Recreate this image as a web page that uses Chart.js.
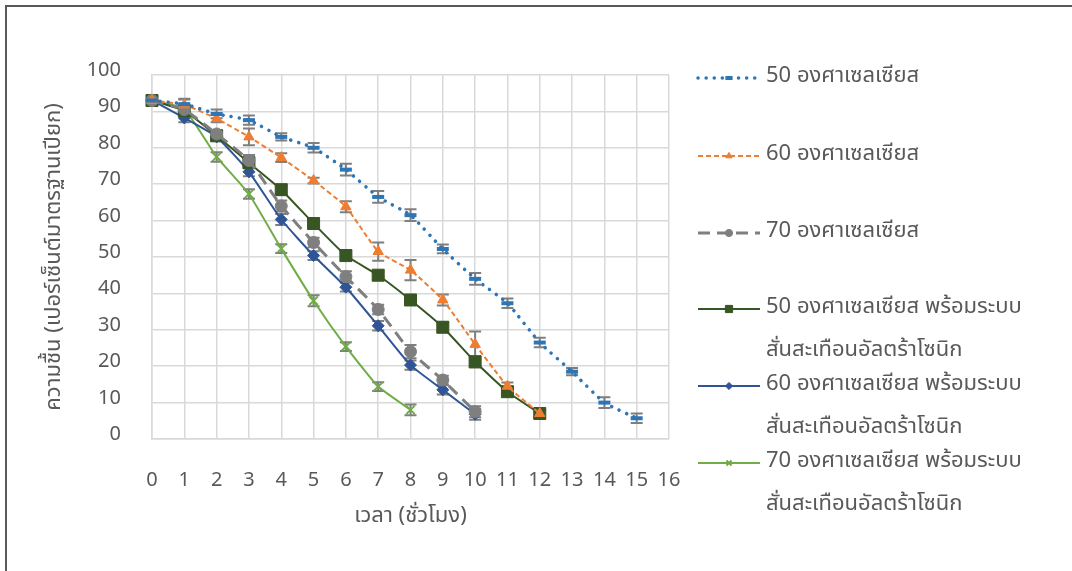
<!DOCTYPE html>
<html>
<head>
<meta charset="utf-8">
<script src="https://cdn.jsdelivr.net/npm/chart.js@4.4.1/dist/chart.umd.min.js"></script>
<style>
  body { margin: 0; background: #fff; }
  canvas { display: block; }
</style>
</head>
<body>
<canvas id="chart" width="1072" height="571"></canvas>
<script>
const hours = ['0','1','2','3','4','5','6','7','8','9','10','11','12','13','14','15','16'];

const s50 = [93, 92, 89.3, 87.6, 83, 80, 74, 66.5, 61.5, 52.2, 44, 37.3, 26.5, 18.5, 10, 5.7];
const s60 = [93, 91.8, 88, 83, 77.3, 71, 63.8, 51.5, 46.4, 38.2, 26, 14.5, 7];
const s70 = [93, 90.5, 83.8, 76.5, 64, 54, 44.6, 35.6, 24, 16.2, 7.5];
const v50 = [93, 90.2, 83.3, 75.9, 68.5, 59.2, 50.4, 45, 38.2, 30.7, 21.2, 13, 7];
const v60 = [93, 88.2, 83, 73.4, 60.3, 50.4, 41.7, 31.1, 20.3, 13.5, 6.8];
const v70 = [93, 90.6, 77.5, 67.3, 52.3, 38, 25.4, 14.4, 8];

// +/- error for each point
const e50 = [0.8, 1.5, 1.2, 1.3, 1.0, 1.3, 1.6, 1.6, 1.6, 1.2, 1.6, 1.3, 1.3, 1.0, 1.5, 1.3];
const e60 = [0.8, 1.5, 1.0, 2.3, 1.2, 0.8, 1.5, 2.5, 2.8, 1.5, 3.5, 1.0, 1.0];
const e70 = [0.8, 1.2, 1.0, 1.5, 1.5, 1.3, 1.5, 1.3, 1.8, 1.2, 1.5];
const ev50 = [0.8, 1.0, 1.0, 1.2, 1.3, 1.2, 1.3, 1.2, 1.2, 1.3, 1.5, 1.0, 1.0];
const ev60 = [0.8, 1.2, 1.0, 1.2, 1.5, 1.2, 1.2, 1.3, 1.3, 1.3, 1.5];
const ev70 = [0.8, 1.0, 1.3, 1.3, 1.2, 1.5, 1.2, 1.2, 1.5];

const seriesNames = [
  ['50 องศาเซลเซียส'],
  ['60 องศาเซลเซียส'],
  ['70 องศาเซลเซียส'],
  ['50 องศาเซลเซียส พร้อมระบบ', 'สั่นสะเทือนอัลตร้าโซนิก'],
  ['60 องศาเซลเซียส พร้อมระบบ', 'สั่นสะเทือนอัลตร้าโซนิก'],
  ['70 องศาเซลเซียส พร้อมระบบ', 'สั่นสะเทือนอัลตร้าโซนิก']
];
const errors = [e50, e60, e70, ev50, ev60, ev70];

const FONT = "'Noto Sans Thai', 'Leelawadee UI', Tahoma, 'Noto Sans', sans-serif";
Chart.defaults.font.family = FONT;
Chart.defaults.font.size = 20;
Chart.defaults.color = '#595959';

const errorBars = {
  id: 'errorBars',
  beforeDatasetsDraw(chart) {
    const ctx = chart.ctx;
    const y = chart.scales.y;
    ctx.save();
    ctx.strokeStyle = '#7f7f7f';
    ctx.lineWidth = 2;
    chart.data.datasets.forEach((ds, i) => {
      const meta = chart.getDatasetMeta(i);
      meta.data.forEach((pt, j) => {
        const v = ds.data[j];
        const e = errors[i][j];
        if (v == null || e == null) return;
        const top = y.getPixelForValue(v + e);
        const bot = y.getPixelForValue(v - e);
        ctx.beginPath();
        ctx.moveTo(pt.x, top); ctx.lineTo(pt.x, bot);
        ctx.moveTo(pt.x - 6, top); ctx.lineTo(pt.x + 6, top);
        ctx.moveTo(pt.x - 6, bot); ctx.lineTo(pt.x + 6, bot);
        ctx.stroke();
      });
    });
    ctx.restore();
  }
};

const sideLegend = {
  id: 'sideLegend',
  afterDraw(chart) {
    const ctx = chart.ctx;
    const rows = [78, 156, 233, 309, 386, 463];
    ctx.save();
    // outer frame (top and left only visible)
    ctx.strokeStyle = '#595959';
    ctx.lineWidth = 2;
    ctx.beginPath();
    ctx.moveTo(1072, 6); ctx.lineTo(6, 6); ctx.lineTo(6, 571);
    ctx.stroke();

    chart.data.datasets.forEach((ds, i) => {
      const yy = rows[i];
      ctx.save();
      ctx.strokeStyle = ds.borderColor;
      ctx.lineWidth = ds.borderWidth;
      ctx.lineCap = ds.borderCapStyle || 'butt';
      ctx.setLineDash(ds.borderDash || []);
      ctx.beginPath();
      ctx.moveTo(698, yy); ctx.lineTo(760, yy);
      ctx.stroke();
      ctx.restore();
      ctx.save();
      ctx.fillStyle = ds.pointBackgroundColor;
      ctx.strokeStyle = ds.pointBorderColor;
      ctx.lineWidth = ds.pointBorderWidth;
      Chart.helpers.drawPoint(ctx, {
        pointStyle: ds.pointStyle,
        radius: ds.pointRadius * 0.6,
        rotation: 0,
        borderWidth: ds.pointBorderWidth
      }, 729, yy);
      ctx.restore();
      ctx.fillStyle = '#595959';
      ctx.font = '22px ' + FONT;
      ctx.textBaseline = 'middle';
      ctx.textAlign = 'left';
      seriesNames[i].forEach((line, k) => {
        ctx.fillText(line, 766, yy + k * 43);
      });
    });
    ctx.restore();
  }
};

function series(data, i, color, style, extra) {
  return Object.assign({
    label: seriesNames[i].join(' '),
    data: data,
    borderColor: color,
    backgroundColor: color,
    pointBackgroundColor: color,
    pointBorderColor: color,
    pointStyle: style,
    borderWidth: 2,
    pointBorderWidth: 1,
    pointRadius: 6,
    tension: 0.15,
    fill: false
  }, extra || {});
}

new Chart(document.getElementById('chart'), {
  type: 'line',
  data: {
    labels: hours,
    datasets: [
      series(s50, 0, '#2e75b6', 'line', { borderWidth: 3.5, borderDash: [0.1, 8], borderCapStyle: 'round', pointRadius: 6, pointBorderWidth: 4 }),
      series(s60, 1, '#ed7d31', 'triangle', { borderWidth: 2, borderDash: [5, 3], pointRadius: 6 }),
      series(s70, 2, '#7f7f7f', 'circle', { borderWidth: 3, borderDash: [12, 7], pointRadius: 6 }),
      series(v50, 3, '#375623', 'rect', { pointRadius: 8.5 }),
      series(v60, 4, '#2f5597', 'rectRot', { pointRadius: 6 }),
      series(v70, 5, '#70ad47', 'crossRot', { pointRadius: 6, pointBorderWidth: 2, pointBackgroundColor: 'rgba(0,0,0,0)' })
    ]
  },
  options: {
    responsive: false,
    animation: false,
    layout: { padding: { left: 0, top: 75, right: 403, bottom: 0 } },
    plugins: { legend: { display: false }, tooltip: { enabled: false } },
    scales: {
      x: {
        offset: false,
        grid: { color: '#d9d9d9', lineWidth: 1.5, drawTicks: false },
        border: { color: '#d9d9d9', width: 1.5 },
        ticks: { padding: 31, maxRotation: 0, autoSkip: false },
        title: { display: true, text: 'เวลา (ชั่วโมง)', font: { size: 22 }, padding: { top: 0, bottom: 40 } },
        afterFit(scale) { scale.height = 132; }
      },
      y: {
        min: 0, max: 100,
        grid: { color: '#d9d9d9', lineWidth: 1.5, drawTicks: false },
        border: { color: '#d9d9d9', width: 1.5 },
        ticks: { stepSize: 10, padding: 31, labelOffset: -3 },
        title: { display: true, text: 'ความชื้น (เปอร์เซ็นต์มาตรฐานเปียก)', font: { size: 22 }, padding: { top: 42, bottom: 0 } },
        afterFit(scale) { scale.width = 152; }
      }
    }
  },
  plugins: [errorBars, sideLegend]
});
</script>
</body>
</html>
